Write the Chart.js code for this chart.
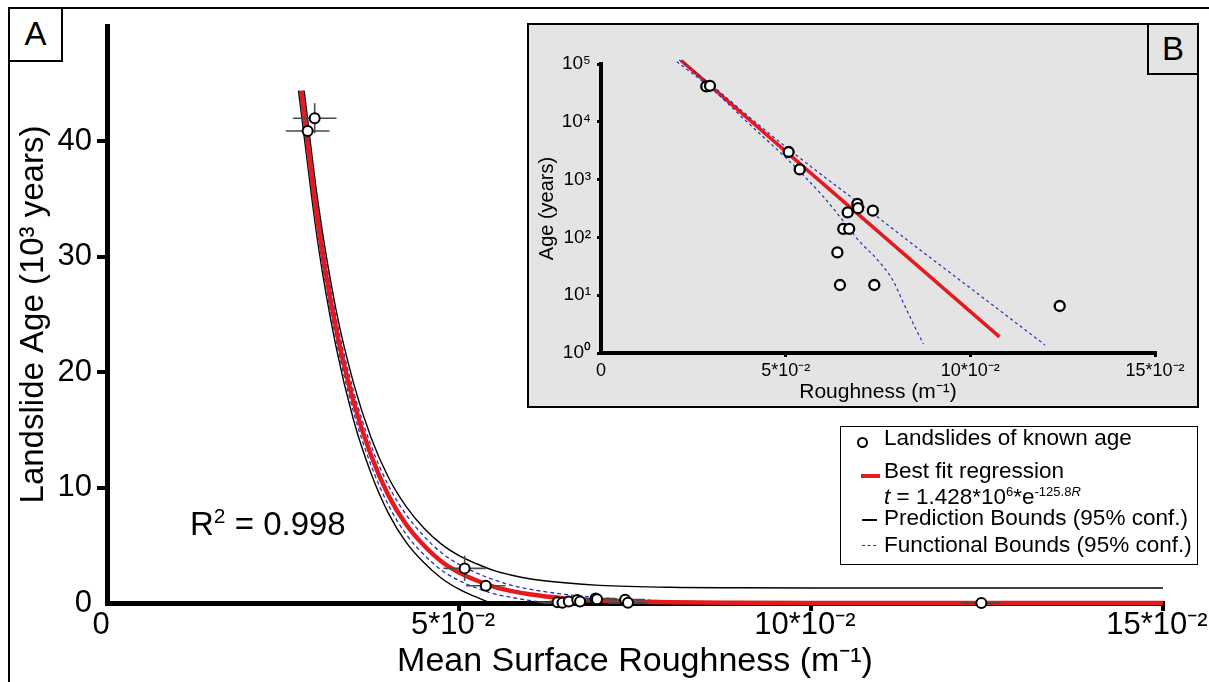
<!DOCTYPE html>
<html><head><meta charset="utf-8">
<script src="https://cdn.jsdelivr.net/npm/chart.js@4.4.1/dist/chart.umd.min.js"></script>
<style>
html,body{margin:0;padding:0;background:#fff;}
body{width:1209px;height:682px;position:relative;overflow:hidden;font-family:"Liberation Sans",Arial,sans-serif;color:#000;}
.abs{position:absolute;}
#cA{position:absolute;left:0;top:0;width:1209px;height:682px;}
#insetBg{position:absolute;left:527px;top:23px;width:672px;height:385px;box-sizing:border-box;border:2.5px solid #000;background:#e4e4e4;}
#cB{position:absolute;left:527px;top:23px;width:672px;height:385px;}
.lg{position:absolute;left:884px;font-size:22.5px;line-height:21px;white-space:nowrap;}
.box{position:absolute;box-sizing:border-box;border:2.5px solid #000;text-align:center;font-size:33px;}
</style></head>
<body>
<canvas id="cA" width="1209" height="682"></canvas>
<div id="insetBg"></div>
<canvas id="cB" width="672" height="385"></canvas>

<div class="abs" style="left:8px;top:7px;width:1201px;height:0;border-top:2.5px solid #000"></div>
<div class="abs" style="left:8px;top:7px;width:0;height:675px;border-left:2.5px solid #000"></div>
<div class="box" style="left:8px;top:7px;width:55px;height:55px;line-height:50px;background:#fff">A</div>
<div class="box" style="left:1147px;top:23px;width:52px;height:52px;line-height:48px;background:#e4e4e4">B</div>

<div class="abs" style="left:190px;top:507px;font-size:33px;line-height:33px;white-space:nowrap">R<span style="font-size:21px;position:relative;top:-12px">2</span> = 0.998</div>

<div class="abs" style="left:840px;top:426px;width:358px;height:139px;box-sizing:border-box;border:1.5px solid #000;background:#fff"></div>
<div class="abs" style="left:857px;top:437px;width:11px;height:11px;box-sizing:border-box;border:2px solid #000;border-radius:50%;background:#fff"></div>
<div class="abs" style="left:861px;top:474px;width:19px;height:4px;background:#e41a1c"></div>
<div class="abs" style="left:862px;top:519px;width:15px;height:2px;background:#000"></div>
<div class="abs" style="left:862px;top:545px;width:14px;height:0;border-top:1.5px dashed #2b2bb5"></div>
<div class="lg" style="top:427px">Landslides of known age</div>
<div class="lg" style="top:460px">Best fit regression</div>
<div class="lg" style="top:486px"><i>t</i> = 1.428*10<span style="font-size:13px;position:relative;top:-8px">6</span>*e<span style="font-size:13px;position:relative;top:-8px">-125.8<i>R</i></span></div>
<div class="lg" style="top:507px">Prediction Bounds (95% conf.)</div>
<div class="lg" style="top:534px">Functional Bounds (95% conf.)</div>

<script>
// ---------------- data ----------------
// Landslides of known age: mean surface roughness (m^-1) and age (years)
const roughness    = [0.0285, 0.0295, 0.0508, 0.0538, 0.0640, 0.0647, 0.0656, 0.0668, 0.0672, 0.0694, 0.0696, 0.0736, 0.0740, 0.1242];
const ageYears     = [40900, 42000, 3000, 1500, 55, 15, 140, 270, 140, 380, 320, 290, 15, 6.5];
const roughnessErr = [0.0031, 0.0031, 0.0030, 0.0028, 0.0028, 0.0028, 0.0028, 0.0028, 0.0028, 0.0028, 0.0028, 0.0028, 0.0028, 0.0028];
const ageErrYears  = [1000, 1300, 1100, 400, 50, 10, 60, 80, 60, 100, 100, 80, 10, 5];

// Panel A curves (age in 10^3 years)
const fitRough       = [0.0276, 0.0300, 0.0325, 0.0350, 0.0375, 0.0400, 0.0425, 0.0450, 0.0475, 0.0500, 0.0525, 0.0550, 0.0575, 0.0600, 0.0650, 0.0700, 0.0800, 0.0900, 0.1000, 0.1200, 0.1500];
const fitAgeKyr      = [44.4, 32.8, 23.9, 17.5, 12.8, 9.3, 6.8, 5.0, 3.6, 2.65, 1.95, 1.4, 1.03, 0.75, 0.40, 0.21, 0.06, 0.02, 0.005, 0, 0];
const predUpRough    = [0.0280, 0.0300, 0.0325, 0.0350, 0.0375, 0.0400, 0.0425, 0.0450, 0.0475, 0.0500, 0.0525, 0.0550, 0.0575, 0.0600, 0.0650, 0.0700, 0.0800, 0.0900, 0.1000, 0.1200, 0.1500];
const predUpKyr      = [44.4, 34.6, 25.5, 19.1, 14.35, 10.85, 8.35, 6.5, 5.1, 4.1, 3.4, 2.8, 2.4, 2.1, 1.75, 1.53, 1.36, 1.32, 1.3, 1.3, 1.3];
const predLowRough   = [0.0272, 0.0300, 0.0325, 0.0350, 0.0375, 0.0400, 0.0425, 0.0450, 0.0475, 0.0500, 0.0525, 0.0545];
const predLowKyr     = [44.4, 31.0, 22.3, 15.9, 11.25, 7.75, 5.25, 3.5, 2.15, 1.2, 0.5, 0];
const funcUpRough    = [0.0279, 0.0300, 0.0325, 0.0350, 0.0375, 0.0400, 0.0425, 0.0450, 0.0475, 0.0500, 0.0525, 0.0550, 0.0575, 0.0600, 0.0650, 0.0700, 0.0800, 0.0900, 0.1000, 0.1200, 0.1500];
const funcUpKyr      = [44.4, 34.0, 24.9, 18.4, 13.65, 10.15, 7.65, 5.8, 4.35, 3.35, 2.6, 2.0, 1.53, 1.2, 0.75, 0.46, 0.18, 0.07, 0.025, 0, 0];
const funcLowRough   = [0.0273, 0.0300, 0.0325, 0.0350, 0.0375, 0.0400, 0.0425, 0.0450, 0.0475, 0.0500, 0.0525, 0.0550, 0.0575, 0.0600, 0.0630];
const funcLowKyr     = [44.4, 31.6, 22.9, 16.6, 11.95, 8.45, 5.95, 4.2, 2.85, 1.95, 1.3, 0.8, 0.48, 0.22, 0];

// Panel B curves (age in years, log axis)
const fitRoughB      = [0.0217, 0.1079];
const fitAgeB        = [115000, 1.9];
const funcUpRoughB   = [0.0212, 0.0300, 0.0400, 0.0500, 0.0600, 0.0735, 0.0850, 0.0972, 0.1202];
const funcUpAgeB     = [117000, 42700, 12300, 3700, 1175, 263, 71, 18.2, 1.38];
const funcLowRoughB  = [0.0205, 0.0300, 0.0400, 0.0500, 0.0550, 0.0600, 0.0650, 0.0682, 0.0700, 0.0750, 0.0790, 0.0820, 0.0850, 0.0873];
const funcLowAgeB    = [110000, 37150, 9330, 2400, 1150, 525, 214, 117, 85, 40, 18.2, 7.1, 2.8, 1.43];

// Tick labels
const xTickValues  = [0, 0.05, 0.10, 0.15];
const xTickLabels  = ['0', '5*10⁻²', '10*10⁻²', '15*10⁻²'];
const yTickValuesA = [0, 10, 20, 30, 40];
const yTickLabelsA = ['0', '10', '20', '30', '40'];
const yTickValuesB = [1, 10, 100, 1000, 10000, 100000];
const yTickLabelsB = ['10⁰', '10¹', '10²', '10³', '10⁴', '10⁵'];

// ---------------- helpers ----------------
const RED = '#e41a1c', BLUE = '#2b2bb5';
const zip = (xs, ys) => xs.map((x, i) => ({x: x, y: ys[i]}));
Chart.defaults.font.family = '"Liberation Sans", Arial, sans-serif';
Chart.defaults.color = '#000';

const errorBars = {
  id: 'errorBars',
  beforeDatasetDraw(chart, args) {
    const ds = chart.data.datasets[args.index];
    if (!ds.errX) return;
    const xs = chart.scales.x, ys = chart.scales.y, ctx = chart.ctx;
    ctx.save();
    ctx.strokeStyle = '#4a4a4a'; ctx.lineWidth = 1.6;
    ds.data.forEach((p, i) => {
      const px = xs.getPixelForValue(p.x), py = ys.getPixelForValue(p.y);
      ctx.beginPath();
      ctx.moveTo(xs.getPixelForValue(p.x - ds.errX[i]), py);
      ctx.lineTo(xs.getPixelForValue(p.x + ds.errX[i]), py);
      ctx.moveTo(px, ys.getPixelForValue(p.y - ds.errY[i]));
      ctx.lineTo(px, ys.getPixelForValue(p.y + ds.errY[i]));
      ctx.stroke();
    });
    ctx.restore();
  }
};
const tickColor = (c) => (c.tick && c.tick.value === 0) ? 'rgba(0,0,0,0)' : '#000';
const lineDs = (data, color, width, dash, order) => ({
  data: data, showLine: true, borderColor: color, borderWidth: width, borderDash: dash,
  pointRadius: 0, cubicInterpolationMode: 'monotone', order: order, clip: false
});

// ---------------- Panel A ----------------
new Chart(document.getElementById('cA'), {
  type: 'scatter',
  data: { datasets: [
    { data: zip(roughness, ageYears.map(v => v / 1000)), order: 0, clip: false,
      pointRadius: 5, pointBorderWidth: 2, pointBackgroundColor: '#fff', pointBorderColor: '#000',
      errX: roughnessErr, errY: ageErrYears.map(v => v / 1000) },
    lineDs(zip(fitRough, fitAgeKyr), RED, 4.5, [], 1),
    lineDs(zip(funcUpRough, funcUpKyr), BLUE, 1.3, [4, 3], 2),
    lineDs(zip(funcLowRough, funcLowKyr), BLUE, 1.3, [4, 3], 2),
    lineDs(zip(predUpRough, predUpKyr), '#000', 1.4, [], 3),
    lineDs(zip(predLowRough, predLowKyr), '#000', 1.4, [], 3)
  ]},
  options: {
    responsive: false, animation: false, devicePixelRatio: 1, events: [],
    layout: { padding: { left: 0, top: 26, right: 46, bottom: 0 } },
    plugins: { legend: { display: false }, tooltip: { enabled: false } },
    scales: {
      x: {
        type: 'linear', min: 0, max: 0.15,
        afterBuildTicks: s => { s.ticks = xTickValues.map(v => ({value: v})); },
        afterFit: s => { s.height = 79; s.paddingLeft = 0; s.paddingRight = 0; },
        ticks: { autoSkip: false, maxRotation: 0, minRotation: 0, padding: -4, labelOffset: -6,
                 font: { size: 31 }, callback: (v, i) => xTickLabels[i] },
        grid: { drawOnChartArea: false, drawTicks: true, tickLength: 8, lineWidth: 4, color: tickColor },
        border: { display: true, color: '#000', width: 5 },
        title: { display: true, text: 'Mean Surface Roughness (m⁻¹)', font: { size: 34 }, padding: { top: 0, bottom: 0 } }
      },
      y: {
        type: 'linear', min: 0, max: 50,
        afterBuildTicks: s => { s.ticks = yTickValuesA.map(v => ({value: v})); },
        afterFit: s => { s.width = 107; s.paddingTop = 0; s.paddingBottom = 0; },
        ticks: { padding: 5, font: { size: 31 }, callback: (v, i) => yTickLabelsA[i] },
        grid: { drawOnChartArea: false, drawTicks: true, tickLength: 10, lineWidth: 4, color: tickColor },
        border: { display: true, color: '#000', width: 5 },
        title: { display: true, text: 'Landslide Age (10³ years)', font: { size: 33 }, padding: { top: 14, bottom: 0 } }
      }
    }
  },
  plugins: [errorBars]
});

// ---------------- Panel B (inset) ----------------
new Chart(document.getElementById('cB'), {
  type: 'scatter',
  data: { datasets: [
    { data: zip(roughness, ageYears), order: 0, clip: false,
      pointRadius: 5, pointBorderWidth: 2.3, pointBackgroundColor: '#fff', pointBorderColor: '#000' },
    lineDs(zip(fitRoughB, fitAgeB), RED, 3.5, [], 2),
    lineDs(zip(funcUpRoughB, funcUpAgeB), BLUE, 1.2, [3, 3], 1),
    lineDs(zip(funcLowRoughB, funcLowAgeB), BLUE, 1.2, [3, 3], 1)
  ]},
  options: {
    responsive: false, animation: false, devicePixelRatio: 1, events: [],
    layout: { padding: { left: 0, top: 41, right: 44, bottom: 0 } },
    plugins: { legend: { display: false }, tooltip: { enabled: false } },
    scales: {
      x: {
        type: 'linear', min: 0, max: 0.15,
        afterBuildTicks: s => { s.ticks = xTickValues.map(v => ({value: v})); },
        afterFit: s => { s.height = 55; s.paddingLeft = 0; s.paddingRight = 0; },
        ticks: { autoSkip: false, maxRotation: 0, minRotation: 0, padding: 3,
                 font: { size: 18 }, callback: (v, i) => xTickLabels[i] },
        grid: { drawOnChartArea: false, drawTicks: true, tickLength: 4, lineWidth: 3, color: tickColor },
        border: { display: true, color: '#000', width: 4 },
        title: { display: true, text: 'Roughness (m⁻¹)', font: { size: 21 }, padding: { top: 0, bottom: 3 } }
      },
      y: {
        type: 'logarithmic', min: 1, max: 100000,
        afterBuildTicks: s => { s.ticks = yTickValuesB.map(v => ({value: v})); },
        afterFit: s => { s.width = 74; s.paddingTop = 0; s.paddingBottom = 0; },
        ticks: { padding: 6, font: { size: 19 }, callback: (v, i) => yTickLabelsB[i] },
        grid: { drawOnChartArea: false, drawTicks: true, tickLength: 4, lineWidth: 3, color: '#000' },
        border: { display: true, color: '#000', width: 4 },
        title: { display: true, text: 'Age (years)', font: { size: 20 }, padding: { top: 8, bottom: 0 } }
      }
    }
  }
});
</script>
</body></html>
